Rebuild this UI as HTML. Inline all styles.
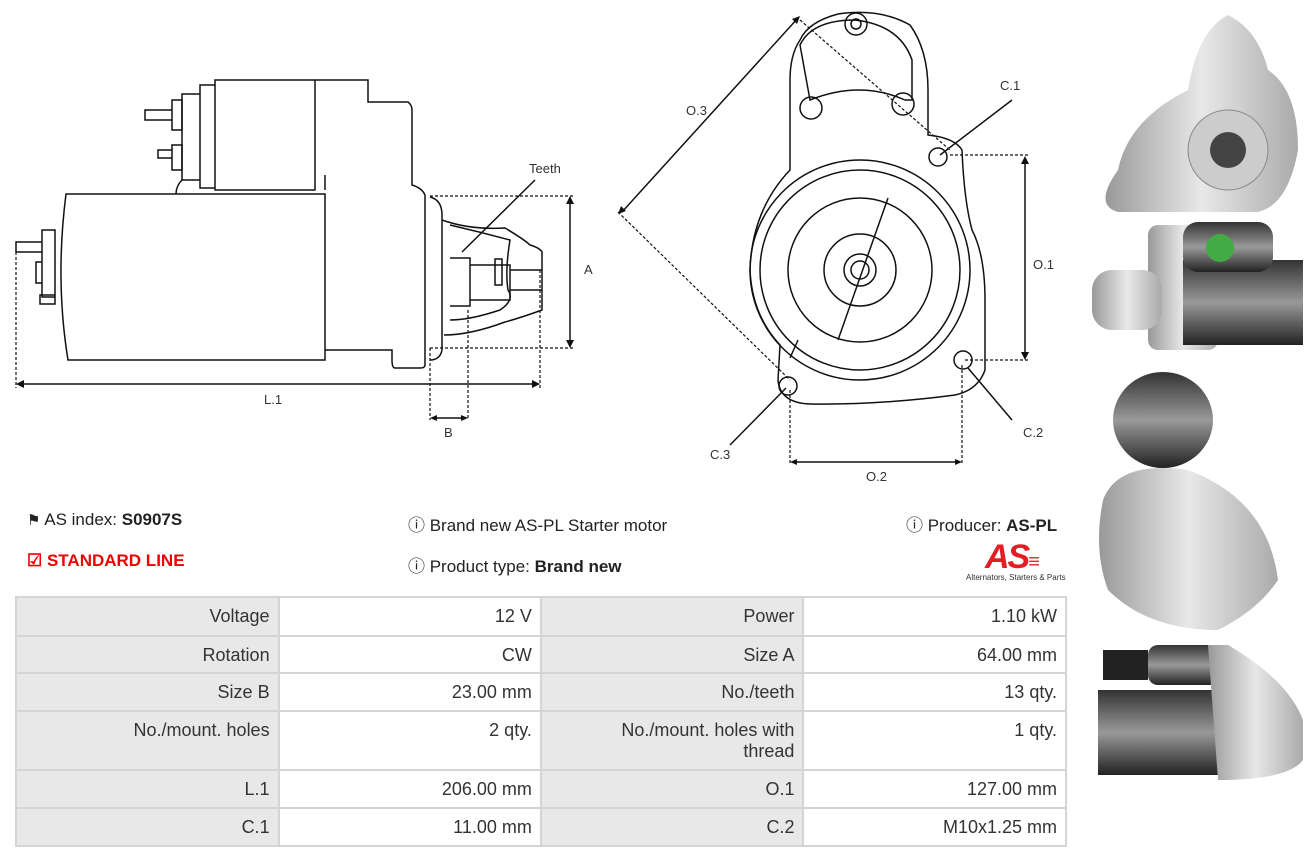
<!DOCTYPE html>
<html><head><meta charset="utf-8"><style>
body{margin:0;width:1316px;height:860px;background:#fff;font-family:"Liberation Sans",sans-serif;position:relative;overflow:hidden}
.t{position:absolute;font-size:17px;color:#222;white-space:nowrap}
table{position:absolute;left:15px;top:596px;border-collapse:collapse;width:1052px;font-size:18px;color:#333}
td{border:2px solid #d4d4d4;text-align:right;padding:8px 8px 4px;vertical-align:top;width:246px}
td.l{background:#e8e8e8}
</style></head><body>
<svg width="1090" height="490" style="position:absolute;left:0;top:0" fill="none" stroke="#111" stroke-width="1.5" font-family="Liberation Sans" font-size="13">
<path d="M66 194 H325 V360 H68 Q55 280 66 194Z"/>
<path d="M215 80 H315 V190 H215Z M200 85 H215 V188 H200Z M182 94 H200 V180 H182Z"/>
<path d="M315 80 H368 V102 H408 Q412 105 412 110 V185 Q422 188 425 195 V365 Q425 368 420 368 H395 Q392 368 392 360 V350 H325"/>
<path d="M325 190 V175 M182 180 Q176 186 176 194"/>
<path d="M145 110 H172 V120 H145Z M158 150 H172 V158 H158Z M172 100 H182 V130 H172Z M172 145 H182 V170 H172Z"/>
<path d="M16 242 H42 V252 H16Z M42 230 H55 V297 H42Z M36 262 H42 V283 H36Z M40 295 H55 V304 H40Z"/>
<path d="M430 197 Q442 200 442 215 V350 Q440 360 430 360"/>
<path d="M442 220 Q470 230 505 228 Q525 240 530 245 Q540 248 542 252 V310 Q520 318 505 322 Q470 335 444 335"/>
<path d="M450 258 H470 V306 H450 M470 265 H510 V300 H470 M495 259 H502 V285 H495Z M510 270 H542 M510 290 H542"/>
<path d="M450 225 Q480 232 510 240 Q505 270 508 290 Q515 300 500 310 Q470 320 450 320"/>
<g stroke-dasharray="3,2" stroke-width="1.2">
<path d="M430 196 H575 M430 348 H575 M16 252 V388 M540 270 V388 M430 348 V420 M468 310 V420"/>
<path d="M618 212 L790 380 M800 20 L950 150 M950 155 H1030 M965 360 H1030 M790 390 V465 M962 365 V465"/>
</g>
<path d="M18 384 H537 M570 198 V346 M432 418 H466 M622 212 L798 18 M1025 158 V358 M793 462 H960" />
<g fill="#111" stroke="none">
<path d="M16 384 l8 -4 v8z M540 384 l-8 -4 v8z M570 196 l-4 8 h8z M570 348 l-4 -8 h8z M430 418 l7 -3 v6z M468 418 l-7 -3 v6z M618 214 l3 -8 l5 5z M800 16 l-3 8 l-5 -5z M1025 156 l-4 8 h8z M1025 360 l-4 -8 h8z M790 462 l7 -3 v6z M962 462 l-7 -3 v6z"/>
</g>
<path d="M535 180 L462 252"/>
<path d="M1012 100 L940 155 M1012 420 L968 368 M730 445 L786 388"/>
<g fill="#333" stroke="none" font-size="13">
<text x="529" y="173">Teeth</text><text x="584" y="274">A</text><text x="264" y="404">L.1</text><text x="444" y="437">B</text>
<text x="686" y="115">O.3</text><text x="1000" y="90">C.1</text><text x="1033" y="269">O.1</text><text x="1023" y="437">C.2</text><text x="710" y="459">C.3</text><text x="866" y="481">O.2</text>
</g>
<path d="M800 40 Q808 22 838 14 Q880 8 910 25 Q928 50 928 90 V135 Q955 138 962 150 Q964 200 972 230 Q985 255 985 300 V370 Q978 390 955 395 Q880 405 810 404 Q780 403 778 380 L780 345 Q752 315 750 270 Q752 210 790 170 V80 Q790 55 800 40Z"/>
<path d="M800 45 Q812 20 855 20 Q900 25 912 60 V100 H905 Q860 80 810 100 Z"/>
<circle cx="856" cy="24" r="11"/><circle cx="856" cy="24" r="5"/>
<circle cx="811" cy="108" r="11"/><circle cx="903" cy="104" r="11"/>
<circle cx="860" cy="270" r="110"/><circle cx="860" cy="270" r="100"/><circle cx="860" cy="270" r="72"/>
<circle cx="860" cy="270" r="36"/><circle cx="860" cy="270" r="16"/><circle cx="860" cy="270" r="9"/>
<path d="M888 198 L838 340 M790 358 L798 340"/>
<circle cx="938" cy="157" r="9"/><circle cx="963" cy="360" r="9"/><circle cx="788" cy="386" r="9"/>
</svg>
<svg width="226" height="800" style="position:absolute;left:1088px;top:0">
<defs><linearGradient id="g" x1="0" x2="1"><stop offset="0" stop-color="#999"/><stop offset=".5" stop-color="#e8e8e8"/><stop offset="1" stop-color="#aaa"/></linearGradient>
<linearGradient id="d" y1="0" y2="1" x1="0" x2="0"><stop offset="0" stop-color="#333"/><stop offset=".5" stop-color="#999"/><stop offset="1" stop-color="#222"/></linearGradient></defs>
<path d="M30 170 Q40 120 100 90 Q110 30 140 15 Q170 30 180 70 Q210 90 210 150 Q200 205 170 212 H30 Q5 205 30 170Z" fill="url(#g)"/>
<circle cx="140" cy="150" r="40" fill="#ccc" stroke="#888"/><circle cx="140" cy="150" r="18" fill="#444"/>
<rect x="60" y="225" width="70" height="125" rx="10" fill="url(#g)"/><rect x="4" y="270" width="70" height="60" rx="20" fill="url(#g)"/>
<rect x="95" y="260" width="120" height="85" fill="url(#d)"/><rect x="95" y="222" width="90" height="50" rx="15" fill="url(#d)"/>
<circle cx="132" cy="248" r="14" fill="#4a4"/>
<ellipse cx="75" cy="420" rx="50" ry="48" fill="url(#d)"/>
<path d="M15 500 Q30 460 100 470 Q180 500 190 580 Q170 610 130 630 Q60 630 20 590 Q5 550 15 500Z" fill="url(#g)"/>
<rect x="60" y="645" width="80" height="40" rx="10" fill="url(#d)"/><rect x="15" y="650" width="45" height="30" fill="#222"/>
<rect x="10" y="690" width="130" height="85" fill="url(#d)"/><path d="M120 645 H140 Q200 680 215 720 V760 Q200 780 130 780Z" fill="url(#g)"/>
</svg>
<div class="t" style="left:27px;top:510px"><span style="font-size:15px">&#9873;</span> AS index: <b>S0907S</b></div>
<div class="t" style="left:27px;top:551px;color:#e00;font-weight:bold">&#9745; STANDARD LINE</div>
<div class="t" style="left:408px;top:511px">&#9432; Brand new AS-PL Starter motor</div>
<div class="t" style="left:408px;top:552px">&#9432; Product type: <b>Brand new</b></div>
<div class="t" style="left:906px;top:511px">&#9432; Producer: <b>AS-PL</b></div>
<div style="position:absolute;left:985px;top:538px;font:italic bold 34px 'Liberation Sans',sans-serif;color:#e31e24;letter-spacing:-2px">AS<span style="font-size:20px">&#8801;</span></div>
<div style="position:absolute;left:966px;top:573px;font-size:8px;color:#333">Alternators, Starters &amp; Parts</div>
<table>
<tr style="height:39px"><td class="l">Voltage</td><td>12 V</td><td class="l">Power</td><td>1.10 kW</td></tr>
<tr style="height:37px"><td class="l">Rotation</td><td>CW</td><td class="l">Size A</td><td>64.00 mm</td></tr>
<tr style="height:38px"><td class="l">Size B</td><td>23.00 mm</td><td class="l">No./teeth</td><td>13 qty.</td></tr>
<tr style="height:59px"><td class="l">No./mount. holes</td><td>2 qty.</td><td class="l">No./mount. holes with<br>thread</td><td>1 qty.</td></tr>
<tr style="height:38px"><td class="l">L.1</td><td>206.00 mm</td><td class="l">O.1</td><td>127.00 mm</td></tr>
<tr style="height:38px"><td class="l">C.1</td><td>11.00 mm</td><td class="l">C.2</td><td>M10x1.25 mm</td></tr>
</table>
</body></html>
